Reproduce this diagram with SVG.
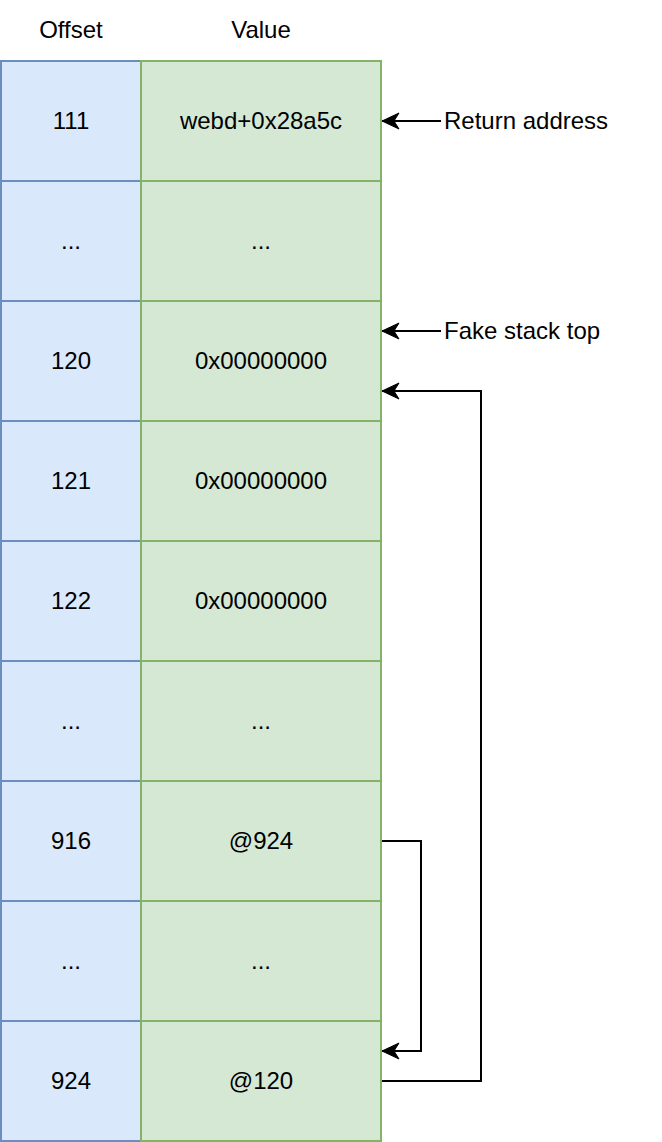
<svg xmlns="http://www.w3.org/2000/svg" width="662" height="1142" viewBox="0 0 662 1142">
<style>
.o{fill:#dae8fc;stroke:#6c8ebf;stroke-width:2}
.v{fill:#d5e8d4;stroke:#82b366;stroke-width:2}
text{font-family:"Liberation Sans",Arial,sans-serif;font-size:24px;fill:#000}
.c{text-anchor:middle}
.e{fill:none;stroke:#000;stroke-width:2}
</style>
<defs>
<marker id="ah" markerWidth="20" markerHeight="20" refX="19" refY="9" orient="auto" markerUnits="userSpaceOnUse" viewBox="0 0 20 18">
<path d="M19,9 L2,1 L7,9 L2,17 Z" fill="#000" stroke="#000" stroke-width="1"/>
</marker>
</defs>
<g id="headers">
<text class="c" x="71" y="38">Offset</text>
<text class="c" x="261" y="38">Value</text>
</g>
<g id="row111"><rect class="o" x="1" y="61" width="140" height="120"/><rect class="v" x="141" y="61" width="240" height="120"/><text class="c" x="71" y="128.5">111</text><text class="c" x="261" y="128.5">webd+0x28a5c</text></g>
<g id="rowdots1"><rect class="o" x="1" y="181" width="140" height="120"/><rect class="v" x="141" y="181" width="240" height="120"/><text class="c" x="71" y="248.5">...</text><text class="c" x="261" y="248.5">...</text></g>
<g id="row120"><rect class="o" x="1" y="301" width="140" height="120"/><rect class="v" x="141" y="301" width="240" height="120"/><text class="c" x="71" y="368.5">120</text><text class="c" x="261" y="368.5">0x00000000</text></g>
<g id="row121"><rect class="o" x="1" y="421" width="140" height="120"/><rect class="v" x="141" y="421" width="240" height="120"/><text class="c" x="71" y="488.5">121</text><text class="c" x="261" y="488.5">0x00000000</text></g>
<g id="row122"><rect class="o" x="1" y="541" width="140" height="120"/><rect class="v" x="141" y="541" width="240" height="120"/><text class="c" x="71" y="608.5">122</text><text class="c" x="261" y="608.5">0x00000000</text></g>
<g id="rowdots2"><rect class="o" x="1" y="661" width="140" height="120"/><rect class="v" x="141" y="661" width="240" height="120"/><text class="c" x="71" y="728.5">...</text><text class="c" x="261" y="728.5">...</text></g>
<g id="row916"><rect class="o" x="1" y="781" width="140" height="120"/><rect class="v" x="141" y="781" width="240" height="120"/><text class="c" x="71" y="848.5">916</text><text class="c" x="261" y="848.5">@924</text></g>
<g id="rowdots3"><rect class="o" x="1" y="901" width="140" height="120"/><rect class="v" x="141" y="901" width="240" height="120"/><text class="c" x="71" y="968.5">...</text><text class="c" x="261" y="968.5">...</text></g>
<g id="row924"><rect class="o" x="1" y="1021" width="140" height="120"/><rect class="v" x="141" y="1021" width="240" height="120"/><text class="c" x="71" y="1088.5">924</text><text class="c" x="261" y="1088.5">@120</text></g>
<g id="label-return"><text x="444" y="128.5">Return address</text></g>
<g id="label-fake"><text x="444" y="338.5">Fake stack top</text></g>
<g id="connectors">
<path class="e" d="M441,121 L382,121" marker-end="url(#ah)"/>
<path class="e" d="M441,331 L382,331" marker-end="url(#ah)"/>
<path class="e" d="M382,841 L421,841 L421,1051 L382,1051" marker-end="url(#ah)"/>
<path class="e" d="M382,1081 L481,1081 L481,391 L382,391" marker-end="url(#ah)"/>
</g>
</svg>
